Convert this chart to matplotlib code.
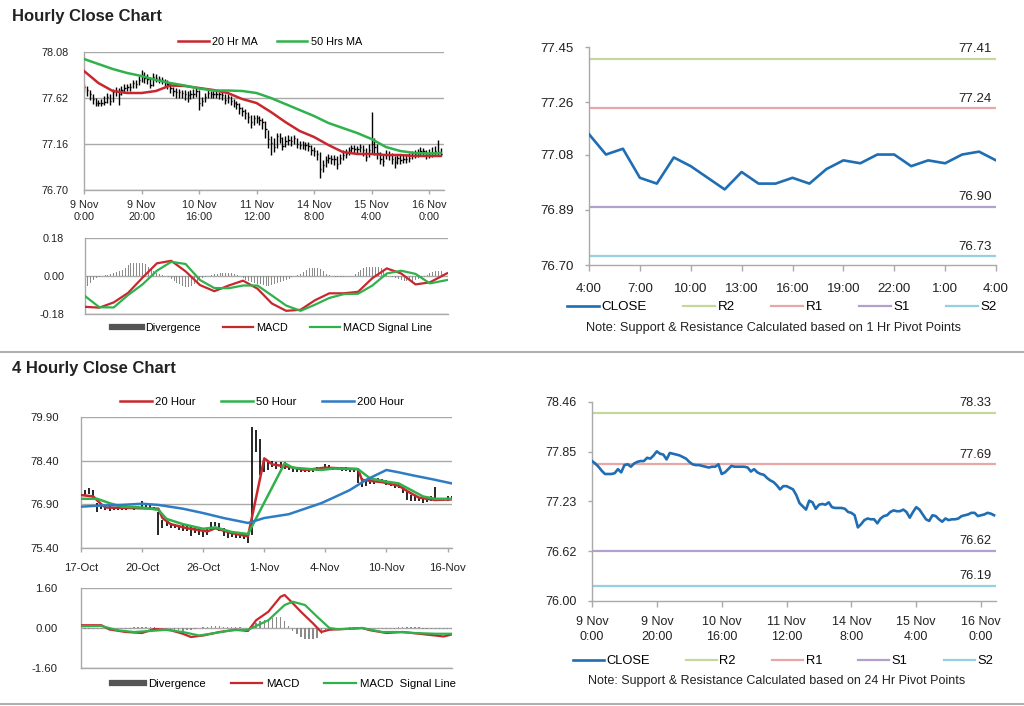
import matplotlib
matplotlib.use('Agg')
import matplotlib.pyplot as plt
from matplotlib.lines import Line2D
import numpy as np

plt.rcParams['font.family'] = ['Liberation Sans', 'DejaVu Sans']

# ---------------- DATA ----------------
# Hourly bars 9 Nov 0:00 -> 16 Nov ~4:00 (125 bars)
hourly_close = [77.73,77.70,77.66,77.61,77.57,77.57,77.57,77.58,77.63,77.59,
                77.68,77.69,77.66,77.70,77.72,77.73,77.73,77.77,77.76,77.80,
                77.85,77.82,77.81,77.75,77.83,77.82,77.81,77.80,77.78,77.76,
                77.72,77.69,77.68,77.68,77.67,77.66,77.65,77.66,77.66,77.69,
                77.57,77.59,77.63,77.67,77.66,77.66,77.66,77.66,77.65,77.60,
                77.63,77.59,77.57,77.56,77.52,77.49,77.47,77.43,77.38,77.42,
                77.42,77.40,77.38,77.31,77.21,77.17,77.13,77.24,77.22,77.14,
                77.19,77.20,77.19,77.22,77.16,77.15,77.15,77.15,77.14,77.10,
                77.09,77.06,76.91,76.95,77.00,77.02,77.01,77.01,76.96,77.02,
                77.05,77.06,77.10,77.12,77.11,77.11,77.13,77.10,77.03,77.10,
                77.16,77.13,77.07,77.01,76.99,77.06,77.05,77.01,76.98,77.02,
                77.00,77.01,77.01,77.02,77.05,77.06,77.07,77.09,77.09,77.05,
                77.06,77.07,77.09,77.08,77.06]
hourly_high = [77.76,77.74,77.70,77.66,77.62,77.60,77.61,77.64,77.67,77.66,
               77.71,77.73,77.72,77.74,77.76,77.76,77.77,77.80,77.80,77.84,
               77.90,77.88,77.86,77.83,77.87,77.86,77.84,77.83,77.81,77.80,
               77.77,77.73,77.72,77.71,77.70,77.70,77.69,77.70,77.71,77.72,
               77.70,77.63,77.67,77.70,77.69,77.69,77.69,77.68,77.68,77.66,
               77.66,77.64,77.61,77.59,77.57,77.53,77.51,77.48,77.45,77.45,
               77.45,77.44,77.42,77.39,77.30,77.24,77.22,77.27,77.27,77.23,
               77.24,77.25,77.24,77.25,77.22,77.19,77.19,77.18,77.18,77.15,
               77.13,77.10,77.08,77.00,77.04,77.06,77.05,77.05,77.04,77.06,
               77.10,77.11,77.13,77.15,77.15,77.14,77.16,77.15,77.12,77.16,
               77.48,77.22,77.16,77.08,77.06,77.10,77.09,77.07,77.04,77.06,
               77.05,77.06,77.06,77.07,77.09,77.10,77.11,77.13,77.12,77.10,
               77.11,77.13,77.14,77.20,77.12]
hourly_low = [77.68,77.64,77.60,77.56,77.54,77.54,77.54,77.55,77.57,77.55,
              77.58,77.64,77.55,77.65,77.67,77.69,77.69,77.72,77.72,77.75,
              77.78,77.77,77.76,77.72,77.74,77.78,77.77,77.76,77.74,77.71,
              77.67,77.64,77.62,77.62,77.62,77.60,77.58,77.61,77.62,77.63,
              77.50,77.54,77.58,77.62,77.62,77.62,77.62,77.61,77.60,77.56,
              77.57,77.55,77.53,77.51,77.46,77.44,77.41,77.37,77.32,77.35,
              77.37,77.35,77.31,77.22,77.12,77.05,77.08,77.12,77.17,77.10,
              77.13,77.15,77.14,77.16,77.12,77.11,77.11,77.10,77.09,77.05,
              77.04,77.00,76.82,76.88,76.93,76.97,76.96,76.95,76.91,76.96,
              77.00,77.02,77.05,77.08,77.07,77.06,77.08,77.04,76.99,77.03,
              77.06,77.05,77.01,76.96,76.94,77.01,77.00,76.96,76.92,76.96,
              76.96,76.97,76.97,76.98,77.01,77.02,77.03,77.05,77.04,77.01,
              77.02,77.03,77.04,77.05,77.04]
hourly_ticks = ['9 Nov\n0:00', '9 Nov\n20:00', '10 Nov\n16:00', '11 Nov\n12:00',
                '14 Nov\n8:00', '15 Nov\n4:00', '16 Nov\n0:00']
hourly_yticks = [76.70, 77.16, 77.62, 78.08]

ma_hourly_idx = [0, 5, 10, 15, 20, 25, 30, 35, 40, 45, 50, 55, 60, 65, 70, 75,
                 80, 85, 90, 95, 100, 105, 110, 115, 120, 124]
ma20_hourly = [77.89,77.77,77.69,77.67,77.67,77.69,77.745,77.74,77.72,77.70,77.67,77.61,77.57,
               77.48,77.38,77.29,77.23,77.15,77.08,77.06,77.06,77.05,77.05,77.04,77.04,77.04]
ma50_hourly = [78.01,77.96,77.91,77.87,77.84,77.80,77.77,77.745,77.715,77.695,77.695,77.69,77.67,
               77.62,77.56,77.50,77.44,77.37,77.32,77.27,77.21,77.13,77.09,77.07,77.065,77.07]

macd_hourly_idx = [0, 5, 10, 15, 20, 25, 30, 35, 40, 45, 50, 55, 60, 65, 70, 75,
                   80, 85, 90, 95, 100, 105, 110, 115, 120, 126]
macd_hourly = [-0.146,-0.150,-0.125,-0.080,-0.008,0.060,0.072,0.022,-0.043,-0.072,-0.045,-0.022,-0.060,
               -0.130,-0.165,-0.160,-0.115,-0.082,-0.082,-0.075,-0.010,0.036,0.012,-0.040,-0.030,0.013]
signal_hourly = [-0.095,-0.148,-0.149,-0.090,-0.040,0.025,0.067,0.057,-0.019,-0.057,-0.058,-0.045,-0.045,
                 -0.092,-0.140,-0.165,-0.136,-0.104,-0.086,-0.084,-0.045,0.012,0.025,0.010,-0.035,-0.019]
divergence_hourly = [-0.05,-0.045,-0.035,-0.02,-0.01,-0.005,0.002,0.003,0.005,0.01,
                     0.015,0.02,0.025,0.03,0.04,0.05,0.06,0.06,0.06,0.06,
                     0.06,0.055,0.045,0.035,0.025,0.015,0.01,0.005,0.0,-0.005,
                     -0.015,-0.025,-0.035,-0.04,-0.045,-0.05,-0.05,-0.045,-0.04,-0.03,
                     -0.02,-0.01,-0.005,0.0,0.005,0.01,0.01,0.015,0.015,0.012,
                     0.015,0.012,0.01,0.005,0.0,-0.01,-0.02,-0.025,-0.03,-0.035,
                     -0.04,-0.04,-0.042,-0.045,-0.045,-0.042,-0.04,-0.035,-0.03,-0.025,
                     -0.02,-0.012,-0.005,0.0,0.005,0.01,0.02,0.03,0.038,0.04,
                     0.04,0.04,0.035,0.025,0.01,0.005,0.0,-0.003,-0.005,-0.005,
                     -0.003,0.0,0.0,0.002,0.01,0.02,0.03,0.04,0.045,0.045,
                     0.045,0.045,0.045,0.04,0.03,0.01,0.0,-0.005,-0.01,-0.015,
                     -0.02,-0.022,-0.025,-0.025,-0.022,-0.018,-0.012,-0.008,-0.003,0.005,
                     0.012,0.018,0.022,0.025,0.022]
macd_hourly_yticks = [-0.18, 0.00, 0.18]

# 1-hour pivot chart (4:00 -> 4:00)
pivot1_labels = ['4:00', '7:00', '10:00', '13:00', '16:00', '19:00', '22:00', '1:00', '4:00']
pivot1_close = [77.15,77.08,77.10,77.00,76.98,77.07,77.04,77.00,76.96,77.02,76.98,76.98,77.00,
                76.98,77.03,77.06,77.05,77.08,77.08,77.04,77.06,77.05,77.08,77.09,77.06]
pivot1_levels = {'R2': 77.41, 'R1': 77.24, 'S1': 76.90, 'S2': 76.73}
pivot1_yticks = [76.70, 76.89, 77.08, 77.26, 77.45]

# 24-hour pivot chart (uses hourly closes)
pivot24_levels = {'R2': 78.33, 'R1': 77.69, 'S1': 76.62, 'S2': 76.19}
pivot24_yticks = [76.00, 76.615, 77.23, 77.845, 78.46]
pivot24_ylabels = ['76.00', '76.62', '77.23', '77.85', '78.46']

# 4-hourly bars 17 Oct -> 16 Nov (92 bars)
h4_high = [77.34,77.39,77.47,77.39,76.94,76.90,76.88,76.86,76.82,76.82,
           76.82,76.81,76.82,76.82,76.84,77.03,76.86,76.86,76.82,76.65,
           76.37,76.31,76.26,76.22,76.20,76.18,76.14,76.14,76.11,76.08,
           76.03,76.08,76.31,76.31,76.26,76.08,76.03,75.97,75.91,75.91,
           75.88,75.91,79.56,79.44,79.16,78.42,78.36,78.39,78.34,78.36,
           78.34,78.25,78.19,78.16,78.16,78.13,78.13,78.16,78.19,78.19,
           78.27,78.25,78.19,78.19,78.19,78.19,78.16,78.16,78.08,77.79,
           77.74,77.77,77.77,77.82,77.77,77.74,77.68,77.62,77.62,77.51,
           77.39,77.22,77.17,77.13,77.11,77.13,77.17,77.51,77.13,77.11,
           77.17,77.17]
h4_low = [77.17,77.22,77.25,77.11,76.65,76.75,76.71,76.68,76.71,76.70,
          76.71,76.70,76.75,76.72,76.75,76.77,76.75,76.75,76.71,75.86,
          76.08,76.14,76.08,76.08,76.03,75.99,75.97,75.80,75.91,75.86,
          75.77,75.86,76.08,76.14,75.97,75.80,75.74,75.77,75.74,75.74,
          75.72,75.57,75.86,78.70,77.91,78.02,78.08,78.19,78.13,78.16,
          78.13,78.08,78.00,78.00,78.02,78.00,78.00,78.02,78.04,78.08,
          78.11,78.11,78.08,78.08,78.04,78.04,78.02,78.02,77.62,77.51,
          77.54,77.59,77.59,77.66,77.62,77.57,77.54,77.45,77.45,77.28,
          77.05,77.02,77.02,77.00,76.94,76.97,77.00,77.00,77.00,77.00,
          77.02,77.05]
h4_ticks = ['17-Oct', '20-Oct', '26-Oct', '1-Nov', '4-Nov', '10-Nov', '16-Nov']
h4_yticks = [75.40, 76.90, 78.40, 79.90]

ma20_h4_idx = [0,3,5,6,13,19,20,22,26,31,33,37,41,45,47,51,55,60,68,69,74,78,81,83,87,91]
ma20_h4 = [77.22,77.17,76.90,76.79,76.77,76.75,76.43,76.22,76.08,75.97,76.08,75.91,75.80,
           78.48,78.27,78.19,78.08,78.16,78.11,77.74,77.66,77.54,77.28,77.13,77.05,77.07]
ma50_h4_idx = [0,4,7,10,15,19,21,25,30,33,37,41,50,52,59,62,68,71,75,78,80,84,87,91]
ma50_h4 = [77.09,77.09,76.94,76.82,76.79,76.71,76.40,76.22,76.06,76.11,75.95,75.88,
           78.31,78.16,78.08,78.13,78.11,77.79,77.68,77.62,77.47,77.17,77.09,77.09]
ma200_h4_idx = [0,5,10,15,19,25,30,35,41,45,51,59,62,66,70,75,78,82,86,91]
ma200_h4 = [76.82,76.86,76.88,76.92,76.88,76.75,76.60,76.43,76.26,76.43,76.56,76.94,
            77.13,77.39,77.74,78.08,78.00,77.88,77.77,77.62]

macd_h4_idx = [0,5,7,11,15,18,22,25,27,30,34,38,41,43,46,49,50,52,54,57,59,61,66,69,71,75,79,83,87,89,91]
macd_h4 = [0.11,0.11,-0.06,-0.16,-0.20,-0.04,-0.09,-0.23,-0.36,-0.30,-0.16,-0.07,-0.12,0.31,0.65,
           1.25,1.32,0.99,0.65,0.18,-0.16,-0.07,-0.03,0.0,-0.09,-0.20,-0.16,-0.23,-0.30,-0.34,-0.26]
signal_h4_idx = [0,5,9,13,17,21,25,29,33,37,41,46,50,52,55,58,61,63,66,69,74,78,82,87,91]
signal_h4 = [0.07,0.08,-0.09,-0.16,-0.12,-0.07,-0.16,-0.30,-0.20,-0.09,-0.07,0.31,0.92,1.05,0.92,
             0.45,0.0,-0.05,-0.03,0.0,-0.16,-0.16,-0.20,-0.23,-0.23]
divergence_h4 = [-0.04,-0.04,-0.04,-0.04,-0.04,-0.03,-0.03,-0.03,-0.02,-0.02,
                 -0.02,-0.02,-0.02,0.03,0.04,0.04,0.05,0.05,0.04,-0.02,
                 -0.03,-0.04,-0.05,-0.06,-0.08,-0.10,-0.08,-0.06,-0.03,0.02,
                 0.04,0.06,0.08,0.08,0.07,0.06,0.05,0.04,0.03,0.03,
                 0.02,0.02,0.10,0.20,0.28,0.33,0.38,0.42,0.45,0.44,
                 0.30,0.10,-0.10,-0.25,-0.35,-0.42,-0.45,-0.45,-0.40,-0.25,
                 -0.08,-0.03,-0.02,-0.02,-0.02,0.02,0.03,0.03,0.02,-0.02,
                 -0.03,-0.03,-0.03,-0.03,-0.03,-0.03,-0.02,-0.02,0.03,0.03,
                 0.03,0.03,0.03,0.03,-0.03,-0.03,-0.03,-0.03,-0.03,-0.03,
                 -0.03,-0.03]
macd_h4_yticks = [-1.60, 0.00, 1.60]

# ---------------- STYLE ----------------
RED = '#c8282d'
GREEN = '#2fb24c'
BLUE200 = '#2e7cc4'
CLOSE_BLUE = '#1f6db3'
GRID = '#a9a9a9'
TXT = '#222222'
LEVEL_COLORS = {'R2': '#c4d89c', 'R1': '#e8a7a7', 'S1': '#b3a1cc', 'S2': '#96cfe0'}

W, H = 1024, 706
fig = plt.figure(figsize=(W / 100, H / 100), dpi=100)


def ax_px(l, t, r, b):
    return fig.add_axes([l / W, 1 - b / H, (r - l) / W, (b - t) / H])


def style_axes(ax, fs):
    for s in ['top', 'right']:
        ax.spines[s].set_visible(False)
    for s in ['left', 'bottom']:
        ax.spines[s].set_color(GRID)
        ax.spines[s].set_linewidth(1.0)
    ax.tick_params(colors=GRID, labelcolor=TXT, labelsize=fs, length=3, width=1)


def fy(y):
    return 1 - y / H


# ---------------- Titles & separators ----------------
fig.text(12 / W, fy(16), 'Hourly Close Chart', fontsize=12, fontweight='bold',
         color='#222222', va='center', ha='left')
fig.text(12 / W, fy(369), '4 Hourly Close Chart', fontsize=12, fontweight='bold',
         color='#222222', va='center', ha='left')
fig.add_artist(Line2D([0, 1], [fy(352), fy(352)], color='#b0b0b0', lw=1.5))
fig.add_artist(Line2D([0, 1], [fy(704), fy(704)], color='#b0b0b0', lw=1.5))

# ---------------- Top-left price ----------------
ax1 = ax_px(84, 52, 444, 190)
xh = np.arange(len(hourly_close))
ax1.vlines(xh, hourly_low, hourly_high, color='black', lw=1.0, zorder=2)
ax1.hlines(hourly_close, xh, xh + 0.5, color='black', lw=1.0, zorder=2)
l20, = ax1.plot(ma_hourly_idx, ma20_hourly, color=RED, lw=1.8, zorder=3)
l50, = ax1.plot(ma_hourly_idx, ma50_hourly, color=GREEN, lw=1.8, zorder=3)
ax1.set_xlim(0, 125.2)
ax1.set_ylim(hourly_yticks[0], hourly_yticks[-1])
ax1.set_yticks(hourly_yticks)
ax1.set_yticklabels([f'{v:.2f}' for v in hourly_yticks])
ax1.set_xticks(np.arange(len(hourly_ticks)) * 20)
ax1.set_xticklabels(hourly_ticks, linespacing=1.3)
ax1.yaxis.grid(True, color=GRID, lw=1.0)
ax1.set_axisbelow(True)
style_axes(ax1, 7.8)
ax1.tick_params(axis='y', length=0, pad=11)
ax1.tick_params(axis='x', pad=4)
fig.legend([l20, l50], ['20 Hr MA', '50 Hrs MA'], loc='center',
           bbox_to_anchor=(270 / W, fy(42)), ncol=2, frameon=False, fontsize=7.8,
           handlelength=2.8, handletextpad=0.3, columnspacing=1.8)

# ---------------- Top-left MACD ----------------
ax2 = ax_px(85, 238, 448, 314)
ax2.bar(np.arange(len(divergence_hourly)), divergence_hourly, width=0.35, color='#8a8a8a', zorder=2)
m1, = ax2.plot(macd_hourly_idx, macd_hourly, color=RED, lw=1.6, zorder=3)
s1, = ax2.plot(macd_hourly_idx, signal_hourly, color=GREEN, lw=1.6, zorder=3)
ax2.set_xlim(0, 126.3)
ax2.set_ylim(macd_hourly_yticks[0], macd_hourly_yticks[-1])
ax2.set_yticks(macd_hourly_yticks)
ax2.set_yticklabels([f'{v:.2f}' for v in macd_hourly_yticks])
ax2.set_xticks([])
ax2.yaxis.grid(True, color=GRID, lw=1.0)
ax2.set_axisbelow(True)
style_axes(ax2, 7.8)
ax2.tick_params(axis='y', length=0, pad=15)
fig.legend([Line2D([], [], color='#555555', lw=4.5), m1, s1],
           ['Divergence', 'MACD', 'MACD Signal Line'], loc='center',
           bbox_to_anchor=(272 / W, fy(328)), ncol=3, frameon=False, fontsize=7.8,
           handlelength=2.8, handletextpad=0.3, columnspacing=2.0)


# ---------------- Pivot charts ----------------
def pivot_chart(ax, xs, close, levels, fs):
    lc, = ax.plot(xs, close, color=CLOSE_BLUE, lw=1.9, zorder=3)
    handles = [lc]
    for name, v in levels.items():
        h = ax.axhline(v, color=LEVEL_COLORS[name], lw=1.6, zorder=2)
        handles.append(h)
        ax.annotate(f'{v:.2f}', xy=(1, v), xycoords=('axes fraction', 'data'),
                    xytext=(-3, 2.5), textcoords='offset points', ha='right', va='bottom',
                    fontsize=fs, color=TXT)
    return handles


ax3 = ax_px(589, 47, 996, 265)
hd3 = pivot_chart(ax3, np.arange(len(pivot1_close)), pivot1_close, pivot1_levels, 9.6)
ax3.set_xlim(0, len(pivot1_close) - 1)
ax3.set_ylim(pivot1_yticks[0], pivot1_yticks[-1])
ax3.set_yticks(pivot1_yticks)
ax3.set_yticklabels([f'{v:.2f}' for v in pivot1_yticks])
ax3.set_xticks(np.arange(len(pivot1_labels)) * 3)
ax3.set_xticklabels(pivot1_labels)
style_axes(ax3, 9.6)
ax3.tick_params(axis='x', length=4, pad=9)
ax3.tick_params(axis='y', length=3, pad=8)
fig.legend(hd3, ['CLOSE', 'R2', 'R1', 'S1', 'S2'], loc='center',
           bbox_to_anchor=(782 / W, fy(307)), ncol=5, frameon=False, fontsize=9.6,
           handlelength=2.4, handletextpad=0.2, columnspacing=2.7)
fig.text(773 / W, fy(328), 'Note: Support & Resistance Calculated based on 1 Hr Pivot Points',
         fontsize=9.2, ha='center', va='center', color=TXT)

ax6 = ax_px(592, 402, 996, 601)
hd6 = pivot_chart(ax6, np.arange(len(hourly_close)), hourly_close, pivot24_levels, 9.3)
ax6.set_xlim(0, 124.6)
ax6.set_ylim(pivot24_yticks[0], pivot24_yticks[-1])
ax6.set_yticks(pivot24_yticks)
ax6.set_yticklabels(pivot24_ylabels)
ax6.set_xticks(np.arange(len(hourly_ticks)) * 20)
ax6.set_xticklabels(hourly_ticks, linespacing=1.35)
style_axes(ax6, 9.0)
ax6.tick_params(axis='x', length=4, pad=7)
ax6.tick_params(axis='y', length=3, pad=8)
fig.legend(hd6, ['CLOSE', 'R2', 'R1', 'S1', 'S2'], loc='center',
           bbox_to_anchor=(783 / W, fy(661)), ncol=5, frameon=False, fontsize=9.3,
           handlelength=2.4, handletextpad=0.2, columnspacing=2.8)
fig.text(777 / W, fy(681), 'Note: Support & Resistance Calculated based on 24 Hr Pivot Points',
         fontsize=9.0, ha='center', va='center', color=TXT)

# ---------------- Bottom-left price (4 hourly) ----------------
ax4 = ax_px(81, 417, 452, 548)
x4 = np.arange(len(h4_high))
ax4.vlines(x4, h4_low, h4_high, color='black', lw=1.2, zorder=2)
a20, = ax4.plot(ma20_h4_idx, ma20_h4, color=RED, lw=1.8, zorder=3)
a50, = ax4.plot(ma50_h4_idx, ma50_h4, color=GREEN, lw=1.8, zorder=3)
a200, = ax4.plot(ma200_h4_idx, ma200_h4, color=BLUE200, lw=1.8, zorder=3)
ax4.set_xlim(0, 91.1)
ax4.set_ylim(h4_yticks[0], h4_yticks[-1])
ax4.set_yticks(h4_yticks)
ax4.set_yticklabels([f'{v:.2f}' for v in h4_yticks])
ax4.set_xticks(np.arange(len(h4_ticks)) * 15)
ax4.set_xticklabels(h4_ticks)
ax4.yaxis.grid(True, color=GRID, lw=1.0)
ax4.set_axisbelow(True)
style_axes(ax4, 8.2)
ax4.tick_params(axis='y', length=0, pad=16)
ax4.tick_params(axis='x', pad=8)
fig.legend([a20, a50, a200], ['20 Hour', '50 Hour', '200 Hour'], loc='center',
           bbox_to_anchor=(262 / W, fy(402)), ncol=3, frameon=False, fontsize=8.2,
           handlelength=2.8, handletextpad=0.3, columnspacing=2.2)

# ---------------- Bottom-left MACD ----------------
ax5 = ax_px(81, 588, 452, 668)
ax5.bar(np.arange(len(divergence_h4)), divergence_h4, width=0.35, color='#8a8a8a', zorder=2)
m4, = ax5.plot(macd_h4_idx, macd_h4, color=RED, lw=1.6, zorder=3)
s4, = ax5.plot(signal_h4_idx, signal_h4, color=GREEN, lw=1.6, zorder=3)
ax5.set_xlim(0, 91.1)
ax5.set_ylim(macd_h4_yticks[0], macd_h4_yticks[-1])
ax5.set_yticks(macd_h4_yticks)
ax5.set_yticklabels([f'{v:.2f}' for v in macd_h4_yticks])
ax5.set_xticks([])
ax5.yaxis.grid(True, color=GRID, lw=1.0)
ax5.set_axisbelow(True)
style_axes(ax5, 8.2)
ax5.tick_params(axis='y', length=0, pad=17)
fig.legend([Line2D([], [], color='#555555', lw=4.5), m4, s4],
           ['Divergence', 'MACD', 'MACD  Signal Line'], loc='center',
           bbox_to_anchor=(284 / W, fy(684)), ncol=3, frameon=False, fontsize=8.2,
           handlelength=2.8, handletextpad=0.3, columnspacing=2.2)

fig.savefig('out.png', dpi=100, facecolor='white')
